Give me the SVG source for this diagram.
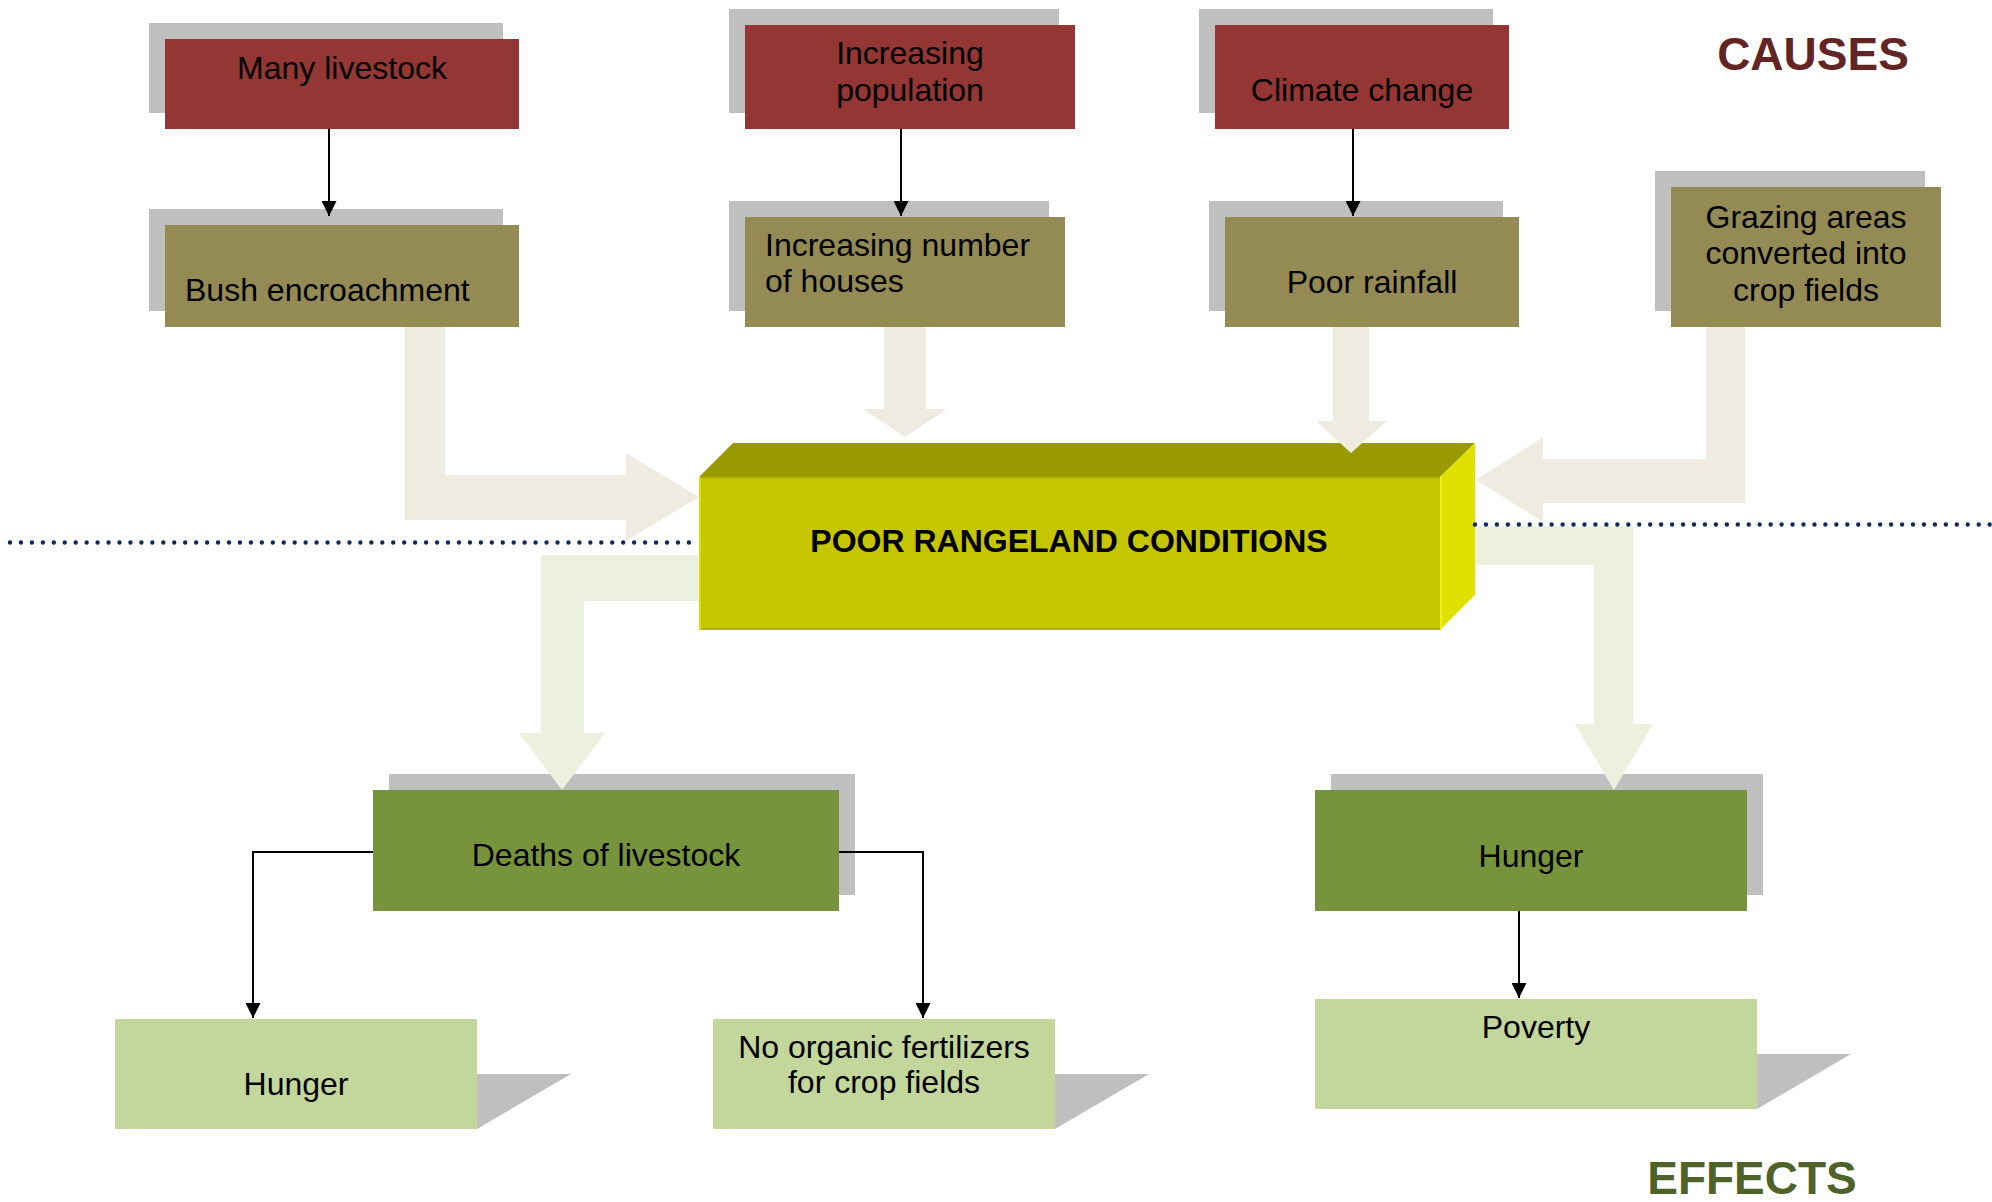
<svg xmlns="http://www.w3.org/2000/svg" width="1992" height="1202" viewBox="0 0 1992 1202">
  <defs>
    <style>
      .lbl { font-family: "Liberation Sans", Arial, sans-serif; font-size: 32px; fill: #000; }
      .mid { text-anchor: middle; }
      .title { font-family: "Liberation Sans", Arial, sans-serif; font-size: 46px; font-weight: bold; }
      .shadow { fill: #BFBFBF; }
      .cause { fill: #943634; }
      .factor { fill: #948A54; }
      .effect { fill: #77933C; }
      .sub { fill: #C3D69B; }
      .in-arrow { fill: #EEECE1; }
      .out-arrow { fill: #EBF1DE; }
      .link { fill: none; stroke: #000; stroke-width: 2; marker-end: url(#head); }
      .divider { fill: none; stroke: #0E2A5C; stroke-width: 4.4; stroke-linecap: round; stroke-dasharray: 0 10.95; }
    </style>
    <marker id="head" viewBox="0 0 10 10" refX="10" refY="5" markerWidth="15" markerHeight="15" markerUnits="userSpaceOnUse" orient="auto">
      <path d="M0,0 L10,5 L0,10 z" fill="#000"/>
    </marker>
  </defs>

  <rect width="1992" height="1202" fill="#FFFFFF"/>

  <!-- Section titles -->
  <text class="title" x="1813" y="70" text-anchor="middle" fill="#632523">CAUSES</text>
  <text class="title" x="1752" y="1194" text-anchor="middle" fill="#4F6228">EFFECTS</text>

  <!-- Root causes -->
  <g id="many-livestock">
    <rect class="shadow" x="149" y="23" width="354" height="90"/>
    <rect class="cause" x="165" y="39" width="354" height="90"/>
    <text class="lbl mid" x="342" y="79">Many livestock</text>
  </g>
  <g id="increasing-population">
    <rect class="shadow" x="729" y="9" width="330" height="104"/>
    <rect class="cause" x="745" y="25" width="330" height="104"/>
    <text class="lbl mid" x="910" y="64">Increasing</text>
    <text class="lbl mid" x="910" y="101">population</text>
  </g>
  <g id="climate-change">
    <rect class="shadow" x="1199" y="9" width="294" height="104"/>
    <rect class="cause" x="1215" y="25" width="294" height="104"/>
    <text class="lbl mid" x="1362" y="101">Climate change</text>
  </g>

  <!-- Direct factors -->
  <g id="bush-encroachment">
    <rect class="shadow" x="149" y="209" width="354" height="102"/>
    <rect class="factor" x="165" y="225" width="354" height="102"/>
    <text class="lbl" x="185" y="301">Bush encroachment</text>
  </g>
  <g id="increasing-houses">
    <rect class="shadow" x="729" y="201" width="320" height="110"/>
    <rect class="factor" x="745" y="217" width="320" height="110"/>
    <text class="lbl" x="765" y="256">Increasing number</text>
    <text class="lbl" x="765" y="292">of houses</text>
  </g>
  <g id="poor-rainfall">
    <rect class="shadow" x="1209" y="201" width="294" height="110"/>
    <rect class="factor" x="1225" y="217" width="294" height="110"/>
    <text class="lbl mid" x="1372" y="293">Poor rainfall</text>
  </g>
  <g id="grazing-converted">
    <rect class="shadow" x="1655" y="171" width="270" height="140"/>
    <rect class="factor" x="1671" y="187" width="270" height="140"/>
    <text class="lbl mid" x="1806" y="228">Grazing areas</text>
    <text class="lbl mid" x="1806" y="264">converted into</text>
    <text class="lbl mid" x="1806" y="301">crop fields</text>
  </g>

  <!-- Central problem, drawn as a 3D block -->
  <g id="poor-rangeland">
    <polygon points="699,477 733,443 1475,443 1440,477" fill="#999900"/>
    <polygon points="1440,477 1475,443 1475,595 1440,630" fill="#E1E100"/>
    <rect x="699" y="477" width="741" height="153" fill="#C6C600"/>
    <line x1="699" y1="478" x2="1440" y2="478" stroke="#B4B400" stroke-width="2"/>
    <line x1="699" y1="629" x2="1440" y2="629" stroke="#B4B400" stroke-width="2"/>
    <line x1="700" y1="477" x2="700" y2="630" stroke="#DDDD00" stroke-width="2"/>
    <line x1="1441" y1="477" x2="1441" y2="630" stroke="#EEEE20" stroke-width="2"/>
    <text class="lbl mid" x="1069" y="552" font-weight="bold">POOR RANGELAND CONDITIONS</text>
  </g>

  <!-- Effects -->
  <g id="deaths-of-livestock">
    <rect class="shadow" x="389" y="774" width="466" height="121"/>
    <rect class="effect" x="373" y="790" width="466" height="121"/>
    <text class="lbl mid" x="606" y="866">Deaths of livestock</text>
  </g>
  <g id="hunger-main">
    <rect class="shadow" x="1331" y="774" width="432" height="121"/>
    <rect class="effect" x="1315" y="790" width="432" height="121"/>
    <text class="lbl mid" x="1531" y="867">Hunger</text>
  </g>
  <g id="hunger-sub">
    <polygon class="shadow" points="477,1074 571,1074 477,1129"/>
    <rect class="sub" x="115" y="1019" width="362" height="110"/>
    <text class="lbl mid" x="296" y="1095">Hunger</text>
  </g>
  <g id="no-fertilizers">
    <polygon class="shadow" points="1055,1074 1149,1074 1055,1129"/>
    <rect class="sub" x="713" y="1019" width="342" height="110"/>
    <text class="lbl mid" x="884" y="1058">No organic fertilizers</text>
    <text class="lbl mid" x="884" y="1093">for crop fields</text>
  </g>
  <g id="poverty">
    <polygon class="shadow" points="1757,1054 1851,1054 1757,1109"/>
    <rect class="sub" x="1315" y="999" width="442" height="110"/>
    <text class="lbl mid" x="1536" y="1038">Poverty</text>
  </g>

  <!-- Connectors -->
  <g id="connectors">
    <!-- block arrows into the central problem -->
    <polygon class="in-arrow" points="405,327 445,327 445,475 626,475 626,453 699,497 626,541 626,520 405,520"/>
    <polygon class="in-arrow" points="884,327 926,327 926,409 947,409 905,437 863,409 884,409"/>
    <polygon class="in-arrow" points="1333,327 1369,327 1369,421 1387,421 1351,453 1316,421 1333,421"/>
    <polygon class="in-arrow" points="1706,327 1745,327 1745,503 1543,503 1543,522 1476,480 1543,437 1543,459 1706,459"/>
    <!-- block arrows out of the central problem -->
    <polygon class="out-arrow" points="699,555 699,601 584,601 584,733 605,733 562,790 519,733 541,733 541,555"/>
    <polygon class="out-arrow" points="1475,526 1633,526 1633,724 1653,724 1614,790 1575,724 1594,724 1594,565 1475,565"/>
    <!-- thin links -->
    <path class="link" d="M329,129 V216"/>
    <path class="link" d="M901,129 V216"/>
    <path class="link" d="M1353,129 V216"/>
    <path class="link" d="M373,852 H253 V1018"/>
    <path class="link" d="M839,852 H923 V1018"/>
    <path class="link" d="M1519,911 V998"/>
  </g>

  <!-- Dotted divider between causes and effects -->
  <path class="divider" d="M10,542.5 H689"/>
  <path class="divider" d="M1475,524.5 H1992"/>
</svg>
